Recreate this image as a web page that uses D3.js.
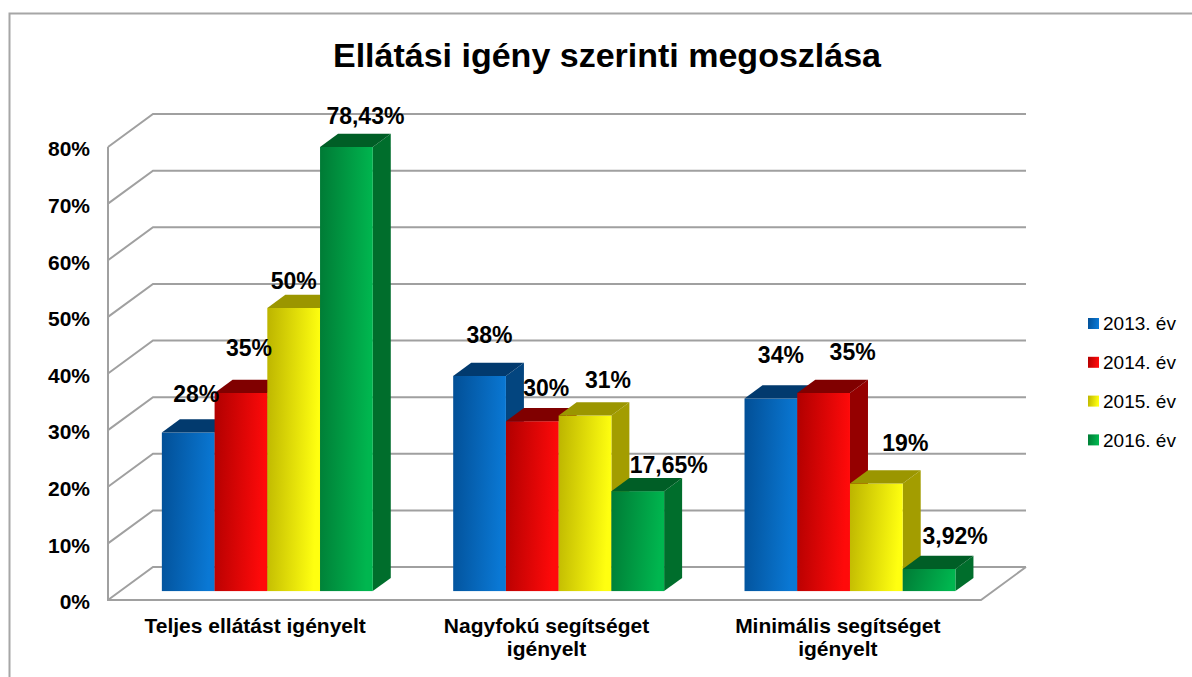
<!DOCTYPE html>
<html>
<head>
<meta charset="utf-8">
<script src="https://cdn.jsdelivr.net/npm/d3@7"></script>
<style>
  body { margin: 0; background: #fff; }
  svg { display: block; font-family: "Liberation Sans", Arial, sans-serif; }
</style>
</head>
<body>
<script>
// chart data
const categories = ["Teljes ellátást igényelt", "Nagyfokú segítséget\nigényelt", "Minimális segítséget\nigényelt"];
const seriesNames = ["2013. év", "2014. év", "2015. év", "2016. év"];
const values2013 = [28, 38, 34];
const values2014 = [35, 30, 35];
const values2015 = [50, 31, 19];
const values2016 = [78.43, 17.65, 3.92];
const yTicks = [0, 10, 20, 30, 40, 50, 60, 70, 80];

const seriesValues = [values2013, values2014, values2015, values2016];

// looks of each series: front gradient, top, side
const looks = [
  {dark: "#024f96", light: "#0a78d4", top: "#023a6e", side: "#03457f"},
  {dark: "#b00000", light: "#ff0a0a", top: "#800000", side: "#950000"},
  {dark: "#bcb400", light: "#ffff10", top: "#9b9600", side: "#a39d00"},
  {dark: "#007a35", light: "#00b64f", top: "#005e26", side: "#006e2c"}
];

// label nudges (relative to bar front top centre), Excel placed them by hand-ish
const labelNudge = [
  [[8, -39], [10, -41], [10, -44]],
  [[8, -45], [14, -33], [29, -41]],
  [[0, -27], [23, -36], [29, -41]],
  [[19, -31], [31, -26], [26, -33]]
];

const width = 1192, height = 677;
const depthX = 45, depthY = 33;       // full floor depth
const barFront = 0.27, barBack = 0.67; // bar depth as a share of floor depth

const svg = d3.select("body").append("svg")
  .attr("width", width)
  .attr("height", height);

// outer frame
svg.append("path")
  .attr("d", "M9.5,700V13.5H1200")
  .attr("fill", "none")
  .attr("stroke", "#a6a6a6")
  .attr("stroke-width", 2);

// title
svg.append("text")
  .attr("x", 607)
  .attr("y", 67)
  .attr("text-anchor", "middle")
  .attr("font-size", 34)
  .attr("font-weight", "bold")
  .text("Ellátási igény szerinti megoszlása");

// scales (front plane)
const y = d3.scaleLinear().domain([0, 80]).range([600, 147]);
const x0 = d3.scaleBand().domain(categories).range([109.5, 983.5])
  .paddingInner(0.276).paddingOuter(0.138);
const x1 = d3.scaleBand().domain(seriesNames).range([0, x0.bandwidth()]);

const frontLeft = 108, frontRight = 981;

// gradients
const defs = svg.append("defs");
looks.forEach((l, i) => {
  const g = defs.append("linearGradient")
    .attr("id", "grad" + i)
    .attr("x1", "0").attr("y1", "0").attr("x2", "1").attr("y2", "0.15");
  g.append("stop").attr("offset", "0").attr("stop-color", l.dark);
  g.append("stop").attr("offset", "1").attr("stop-color", l.light);
});

// walls and gridlines
const grid = svg.append("g")
  .attr("fill", "none")
  .attr("stroke", "#a0a0a0")
  .attr("stroke-width", 2);

yTicks.forEach(t => {
  const yf = y(t), yb = y(t) - depthY;
  grid.append("path")
    .attr("d", `M${frontLeft},${yf}L${frontLeft + depthX},${yb}H${frontRight + depthX}`);
});
grid.append("path")
  .attr("d", `M${frontLeft},${y(80)}V${y(0)}H${frontRight}L${frontRight + depthX},${y(0) - depthY}`);

// y tick labels
svg.append("g").selectAll("text")
  .data(yTicks)
  .join("text")
    .attr("x", 90)
    .attr("y", d => y(d) + 2)
    .attr("dy", "0.35em")
    .attr("text-anchor", "end")
    .attr("font-size", 21)
    .attr("font-weight", "bold")
    .text(d => d + "%");

// bars
const bx = barFront * depthX, by = barFront * depthY;
const ddx = (barBack - barFront) * depthX, ddy = (barBack - barFront) * depthY;
const barsG = svg.append("g");
const fmt = v => (Number.isInteger(v) ? v : v.toFixed(2).replace(".", ",")) + "%";
const labels = [];

categories.forEach((c, ci) => {
  seriesNames.forEach((s, si) => {
    const v = seriesValues[si][ci];
    const xl = x0(c) + x1(s) + bx;
    const xr = xl + x1.bandwidth();
    const yb = y(0) - by;
    const yt = y(v) - by;
    const l = looks[si];
    const g = barsG.append("g");
    // side
    g.append("path")
      .attr("d", `M${xr},${yb}L${xr + ddx},${yb - ddy}L${xr + ddx},${yt - ddy}L${xr},${yt}Z`)
      .attr("fill", l.side);
    // front
    g.append("rect")
      .attr("x", xl).attr("y", yt)
      .attr("width", x1.bandwidth()).attr("height", yb - yt)
      .attr("fill", `url(#grad${si})`);
    // top
    g.append("path")
      .attr("d", `M${xl},${yt}L${xl + ddx},${yt - ddy}L${xr + ddx},${yt - ddy}L${xr},${yt}Z`)
      .attr("fill", l.top);
    const n = labelNudge[si][ci];
    labels.push({x: (xl + xr) / 2 + n[0], y: yt + n[1], text: fmt(v)});
  });
});

// data labels
svg.append("g").selectAll("text")
  .data(labels)
  .join("text")
    .attr("x", d => d.x)
    .attr("y", d => d.y)
    .attr("dy", "0.35em")
    .attr("text-anchor", "middle")
    .attr("font-size", 23)
    .attr("font-weight", "bold")
    .text(d => d.text);

// category labels
const catG = svg.append("g")
  .attr("font-size", 21)
  .attr("font-weight", "bold")
  .attr("text-anchor", "middle");
categories.forEach(c => {
  const t = catG.append("text")
    .attr("x", x0(c) + x0.bandwidth() / 2)
    .attr("y", 633);
  c.split("\n").forEach((line, i) => {
    t.append("tspan")
      .attr("x", x0(c) + x0.bandwidth() / 2)
      .attr("dy", i ? 23 : 0)
      .text(line);
  });
});

// legend
const legend = svg.append("g").selectAll("g")
  .data(seriesNames)
  .join("g")
    .attr("transform", (d, i) => `translate(1088,${323.5 + i * 38.8})`);
legend.append("rect")
  .attr("x", 0).attr("y", -5.5)
  .attr("width", 11).attr("height", 11)
  .attr("fill", (d, i) => `url(#grad${i})`);
legend.append("text")
  .attr("x", 15)
  .attr("dy", "0.35em")
  .attr("font-size", 19)
  .text(d => d);
</script>
</body>
</html>
